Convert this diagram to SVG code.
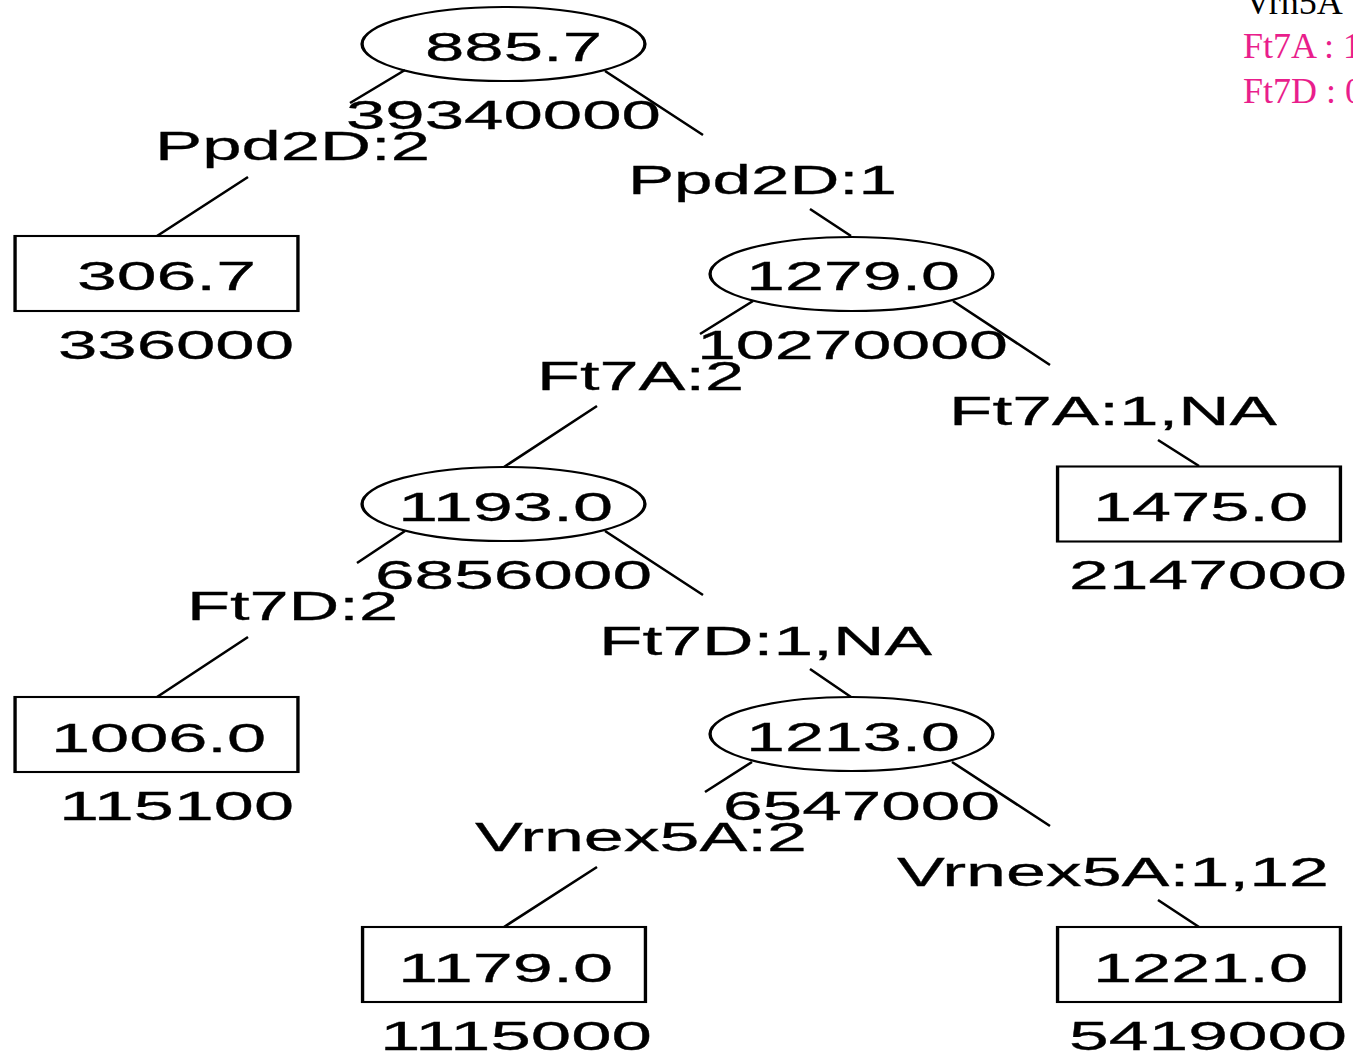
<svg xmlns="http://www.w3.org/2000/svg" width="1353" height="1052" viewBox="0 0 1353 1052">
  <style>
    .bg { fill: #ffffff; }
    .shape { fill: none; stroke: #000; stroke-width: 2.1; }
    .edge { fill: none; stroke: #000; stroke-width: 2.6; stroke-linecap: butt; }
    .t { font-family: "Liberation Sans", Arial, sans-serif; font-size: 41px; fill: #000; stroke: #000; stroke-width: 0.3; }
    .leg { font-family: "Liberation Serif", "Times New Roman", serif; font-size: 36px; }
    .legk { fill: #000; }
    .legp { fill: #E91E8C; }
  </style>
  <rect class="bg" x="0" y="0" width="1353" height="1052"/>

  <!-- edges: parent to child, broken where the split labels sit -->
  <g id="connectors">
    <path class="edge" d="M405,70 L350,103 M248,177 L157,236"/>
    <path class="edge" d="M605,71 L703,135 M810,209 L851,236"/>
    <path class="edge" d="M753,301 L700,334 M597,406 L504,467"/>
    <path class="edge" d="M953,301 L1050,365 M1158,440 L1199,466"/>
    <path class="edge" d="M405,531 L357,563 M248,637 L157,697"/>
    <path class="edge" d="M605,531 L703,595 M810,669 L851,697"/>
    <path class="edge" d="M752,762 L705,792 M597,867 L504,927"/>
    <path class="edge" d="M952,762 L1050,826 M1158,900 L1199,927"/>

    <text class="t" x="155" y="160" textLength="275" lengthAdjust="spacingAndGlyphs">Ppd2D:2</text>
    <text class="t" x="628" y="194" textLength="269" lengthAdjust="spacingAndGlyphs">Ppd2D:1</text>
    <text class="t" x="537" y="390" textLength="207" lengthAdjust="spacingAndGlyphs">Ft7A:2</text>
    <text class="t" x="949" y="425" textLength="328" lengthAdjust="spacingAndGlyphs">Ft7A:1,NA</text>
    <text class="t" x="187" y="620" textLength="211" lengthAdjust="spacingAndGlyphs">Ft7D:2</text>
    <text class="t" x="599" y="655" textLength="333" lengthAdjust="spacingAndGlyphs">Ft7D:1,NA</text>
    <text class="t" x="475" y="851" textLength="332" lengthAdjust="spacingAndGlyphs">Vrnex5A:2</text>
    <text class="t" x="897" y="886" textLength="432" lengthAdjust="spacingAndGlyphs">Vrnex5A:1,12</text>
  </g>

  <!-- split nodes (ellipses) -->
  <g id="node-root">
    <g transform="translate(503.5,44) scale(1.6,1)"><ellipse class="shape" cx="0" cy="0" rx="88.4" ry="37"/></g>
    <text class="t" x="425" y="61" textLength="177" lengthAdjust="spacingAndGlyphs">885.7</text>
    <text class="t" x="346" y="129" textLength="315" lengthAdjust="spacingAndGlyphs">39340000</text>
  </g>
  <g id="node-1279">
    <g transform="translate(851.5,274) scale(1.6,1)"><ellipse class="shape" cx="0" cy="0" rx="88.4" ry="37"/></g>
    <text class="t" x="746" y="290" textLength="214" lengthAdjust="spacingAndGlyphs">1279.0</text>
    <text class="t" x="697" y="359" textLength="311" lengthAdjust="spacingAndGlyphs">10270000</text>
  </g>
  <g id="node-1193">
    <g transform="translate(503.5,504) scale(1.6,1)"><ellipse class="shape" cx="0" cy="0" rx="88.4" ry="37"/></g>
    <text class="t" x="398" y="521" textLength="215" lengthAdjust="spacingAndGlyphs">1193.0</text>
    <text class="t" x="375" y="589" textLength="277" lengthAdjust="spacingAndGlyphs">6856000</text>
  </g>
  <g id="node-1213">
    <g transform="translate(851.5,734) scale(1.6,1)"><ellipse class="shape" cx="0" cy="0" rx="88.4" ry="37"/></g>
    <text class="t" x="746" y="751" textLength="214" lengthAdjust="spacingAndGlyphs">1213.0</text>
    <text class="t" x="723" y="820" textLength="277" lengthAdjust="spacingAndGlyphs">6547000</text>
  </g>

  <!-- leaves (boxes) -->
  <g id="leaf-306">
    <g transform="translate(156.5,273.5) scale(1.6,1)"><rect class="shape" x="-88.4" y="-37.5" width="176.8" height="75"/></g>
    <text class="t" x="77" y="290" textLength="179" lengthAdjust="spacingAndGlyphs">306.7</text>
    <text class="t" x="58" y="359" textLength="236" lengthAdjust="spacingAndGlyphs">336000</text>
  </g>
  <g id="leaf-1475">
    <g transform="translate(1199,504) scale(1.6,1)"><rect class="shape" x="-88.4" y="-37.5" width="176.8" height="75"/></g>
    <text class="t" x="1093" y="521" textLength="215" lengthAdjust="spacingAndGlyphs">1475.0</text>
    <text class="t" x="1069" y="589" textLength="278" lengthAdjust="spacingAndGlyphs">2147000</text>
  </g>
  <g id="leaf-1006">
    <g transform="translate(156.5,734.5) scale(1.6,1)"><rect class="shape" x="-88.4" y="-37.5" width="176.8" height="75"/></g>
    <text class="t" x="51" y="752" textLength="215" lengthAdjust="spacingAndGlyphs">1006.0</text>
    <text class="t" x="59" y="820" textLength="235" lengthAdjust="spacingAndGlyphs">115100</text>
  </g>
  <g id="leaf-1179">
    <g transform="translate(504,964.5) scale(1.6,1)"><rect class="shape" x="-88.4" y="-37.5" width="176.8" height="75"/></g>
    <text class="t" x="398" y="982" textLength="215" lengthAdjust="spacingAndGlyphs">1179.0</text>
    <text class="t" x="380" y="1050" textLength="272" lengthAdjust="spacingAndGlyphs">1115000</text>
  </g>
  <g id="leaf-1221">
    <g transform="translate(1199,964.5) scale(1.6,1)"><rect class="shape" x="-88.4" y="-37.5" width="176.8" height="75"/></g>
    <text class="t" x="1093" y="982" textLength="215" lengthAdjust="spacingAndGlyphs">1221.0</text>
    <text class="t" x="1069" y="1050" textLength="278" lengthAdjust="spacingAndGlyphs">5419000</text>
  </g>

  <!-- legend, running off the right edge -->
  <g id="legend">
    <text class="leg legk" x="1245" y="14">Vrn5A</text>
    <text class="leg legp" x="1243" y="58">Ft7A : 1</text>
    <text class="leg legp" x="1243" y="103">Ft7D : 0</text>
  </g>
</svg>
